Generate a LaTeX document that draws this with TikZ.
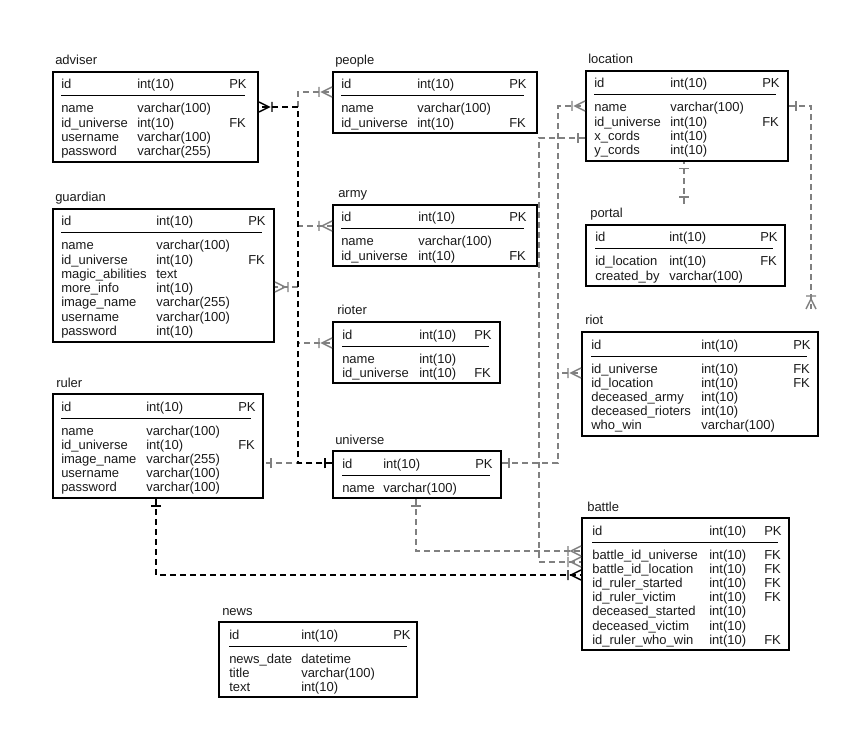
\documentclass[tikz,border=0pt]{standalone}
\usepackage{fontspec}
\setmainfont{Liberation Sans}
\usepackage{tikz}
\usetikzlibrary{calc,fit,decorations.markings}
\definecolor{linkgray}{HTML}{808080}
\definecolor{txtgray}{HTML}{1A1A1A}
\tikzset{
	tbl/.style={draw=black, line width=1.5pt, inner sep=0pt},
	title/.style={anchor=base west, inner sep=0pt, text=txtgray, font=\fontsize{9.75}{11}\selectfont},
	cell/.style={anchor=base west, inner sep=0pt, text=txtgray, font=\fontsize{9.75}{11}\selectfont},
	sepline/.style={draw=black, line width=0.75pt},
	rel/.style={draw=linkgray, line width=1.1pt, dash pattern=on 4.5pt off 3pt},
	relb/.style={rel, draw=black},
	one/.style={postaction={decorate,decoration={markings,
		mark=at position 5.25pt with {\draw[solid] (0,-5) -- (0,5);}}}},
	oneend/.style={postaction={decorate,decoration={markings,
		mark=at position -5.25pt with {\draw[solid] (0,-5) -- (0,5);}}}},
	many/.style={postaction={decorate,decoration={markings,
		mark=at position 1 with {\draw[solid] (-13,-5) -- (-13,5) (0,-5) -- (-10,0) -- (0,5);}}}}
}

\begin{document}
\begin{tikzpicture}[x=0.75pt,y=-0.75pt]
	\useasboundingbox (0,0) rectangle (868,738);

	% adviser
	\node[title] (adviser-title) at (55,65) {adviser};
	\node[tbl, fit={(53,72) (258,161.6)}] (adviser) {};
	\node[cell] (adviser-id) at (61,89) {id};
	\node[cell] (adviser-idt) at (137,89) {int(10)};
	\node[cell] (adviser-idk) at (229,89) {PK};
	\draw[sepline] (61,96) -- (245,96);
	\foreach \f/\t/\k [count=\i] in {name/varchar(100)/, id\_universe/int(10)/FK, username/varchar(100)/, password/varchar(255)/}{
		\node[cell] (adviser-f\i) at (61,{98.8+14.2*\i}) {\f};
		\node[cell] (adviser-t\i) at (137,{98.8+14.2*\i}) {\t};
		\node[cell] (adviser-k\i) at (229,{98.8+14.2*\i}) {\k};
	}

	% people
	\node[title] (people-title) at (335,65) {people};
	\node[tbl, fit={(333,72) (537,133.2)}] (people) {};
	\node[cell] (people-id) at (341,89) {id};
	\node[cell] (people-idt) at (417,89) {int(10)};
	\node[cell] (people-idk) at (509,89) {PK};
	\draw[sepline] (341,96) -- (524,96);
	\foreach \f/\t/\k [count=\i] in {name/varchar(100)/, id\_universe/int(10)/FK}{
		\node[cell] (people-f\i) at (341,{98.8+14.2*\i}) {\f};
		\node[cell] (people-t\i) at (417,{98.8+14.2*\i}) {\t};
		\node[cell] (people-k\i) at (509,{98.8+14.2*\i}) {\k};
	}

	% location
	\node[title] (location-title) at (588,64) {location};
	\node[tbl, fit={(586,71) (788,160.6)}] (location) {};
	\node[cell] (location-id) at (594,88) {id};
	\node[cell] (location-idt) at (670,88) {int(10)};
	\node[cell] (location-idk) at (762,88) {PK};
	\draw[sepline] (594,95) -- (776,95);
	\foreach \f/\t/\k [count=\i] in {name/varchar(100)/, id\_universe/int(10)/FK, x\_cords/int(10)/, y\_cords/int(10)/}{
		\node[cell] (location-f\i) at (594,{97.8+14.2*\i}) {\f};
		\node[cell] (location-t\i) at (670,{97.8+14.2*\i}) {\t};
		\node[cell] (location-k\i) at (762,{97.8+14.2*\i}) {\k};
	}

	% guardian
	\node[title] (guardian-title) at (55,202) {guardian};
	\node[tbl, fit={(53,209) (274,342)}] (guardian) {};
	\node[cell] (guardian-id) at (61,226) {id};
	\node[cell] (guardian-idt) at (156,226) {int(10)};
	\node[cell] (guardian-idk) at (248,226) {PK};
	\draw[sepline] (61,233) -- (262,233);
	\foreach \f/\t/\k [count=\i] in {name/varchar(100)/, id\_universe/int(10)/FK, magic\_abilities/text/, more\_info/int(10)/, image\_name/varchar(255)/, username/varchar(100)/, password/int(10)/}{
		\node[cell] (guardian-f\i) at (61,{235.8+14.2*\i}) {\f};
		\node[cell] (guardian-t\i) at (156,{235.8+14.2*\i}) {\t};
		\node[cell] (guardian-k\i) at (248,{235.8+14.2*\i}) {\k};
	}

	% army
	\node[title] (army-title) at (338,198) {army};
	\node[tbl, fit={(333,205) (537,266.2)}] (army) {};
	\node[cell] (army-id) at (341,222) {id};
	\node[cell] (army-idt) at (418,222) {int(10)};
	\node[cell] (army-idk) at (509,222) {PK};
	\draw[sepline] (341,229) -- (524,229);
	\foreach \f/\t/\k [count=\i] in {name/varchar(100)/, id\_universe/int(10)/FK}{
		\node[cell] (army-f\i) at (341,{231.8+14.2*\i}) {\f};
		\node[cell] (army-t\i) at (418,{231.8+14.2*\i}) {\t};
		\node[cell] (army-k\i) at (509,{231.8+14.2*\i}) {\k};
	}

	% portal
	\node[title] (portal-title) at (590,218) {portal};
	\node[tbl, fit={(586,225) (785,286.2)}] (portal) {};
	\node[cell] (portal-id) at (595,242) {id};
	\node[cell] (portal-idt) at (669,242) {int(10)};
	\node[cell] (portal-idk) at (760,242) {PK};
	\draw[sepline] (595,249) -- (773,249);
	\foreach \f/\t/\k [count=\i] in {id\_location/int(10)/FK, created\_by/varchar(100)/}{
		\node[cell] (portal-f\i) at (595,{251.8+14.2*\i}) {\f};
		\node[cell] (portal-t\i) at (669,{251.8+14.2*\i}) {\t};
		\node[cell] (portal-k\i) at (760,{251.8+14.2*\i}) {\k};
	}

	% rioter
	\node[title] (rioter-title) at (337,315) {rioter};
	\node[tbl, fit={(333,322) (500,383.2)}] (rioter) {};
	\node[cell] (rioter-id) at (342,339) {id};
	\node[cell] (rioter-idt) at (419,339) {int(10)};
	\node[cell] (rioter-idk) at (474,339) {PK};
	\draw[sepline] (342,346) -- (489,346);
	\foreach \f/\t/\k [count=\i] in {name/int(10)/, id\_universe/int(10)/FK}{
		\node[cell] (rioter-f\i) at (342,{348.8+14.2*\i}) {\f};
		\node[cell] (rioter-t\i) at (419,{348.8+14.2*\i}) {\t};
		\node[cell] (rioter-k\i) at (474,{348.8+14.2*\i}) {\k};
	}

	% riot
	\node[title] (riot-title) at (585,325) {riot};
	\node[tbl, fit={(582,332) (818,435.8)}] (riot) {};
	\node[cell] (riot-id) at (591,349) {id};
	\node[cell] (riot-idt) at (701,349) {int(10)};
	\node[cell] (riot-idk) at (793,349) {PK};
	\draw[sepline] (591,356) -- (807,356);
	\foreach \f/\t/\k [count=\i] in {id\_universe/int(10)/FK, id\_location/int(10)/FK, deceased\_army/int(10)/, deceased\_rioters/int(10)/, who\_win/varchar(100)/}{
		\node[cell] (riot-f\i) at (591,{358.8+14.2*\i}) {\f};
		\node[cell] (riot-t\i) at (701,{358.8+14.2*\i}) {\t};
		\node[cell] (riot-k\i) at (793,{358.8+14.2*\i}) {\k};
	}

	% ruler
	\node[title] (ruler-title) at (56,387) {ruler};
	\node[tbl, fit={(53,394) (263,497.8)}] (ruler) {};
	\node[cell] (ruler-id) at (61,411) {id};
	\node[cell] (ruler-idt) at (146,411) {int(10)};
	\node[cell] (ruler-idk) at (238,411) {PK};
	\draw[sepline] (61,418) -- (251,418);
	\foreach \f/\t/\k [count=\i] in {name/varchar(100)/, id\_universe/int(10)/FK, image\_name/varchar(255)/, username/varchar(100)/, password/varchar(100)/}{
		\node[cell] (ruler-f\i) at (61,{420.8+14.2*\i}) {\f};
		\node[cell] (ruler-t\i) at (146,{420.8+14.2*\i}) {\t};
		\node[cell] (ruler-k\i) at (238,{420.8+14.2*\i}) {\k};
	}

	% universe
	\node[title] (universe-title) at (335,444) {universe};
	\node[tbl, fit={(333,451) (501,498)}] (universe) {};
	\node[cell] (universe-id) at (342,468) {id};
	\node[cell] (universe-idt) at (383,468) {int(10)};
	\node[cell] (universe-idk) at (475,468) {PK};
	\draw[sepline] (342,475) -- (490,475);
	\node[cell] (universe-f1) at (342,492) {name};
	\node[cell] (universe-t1) at (383,492) {varchar(100)};

	% battle
	\node[title] (battle-title) at (587,511) {battle};
	\node[tbl, fit={(582,518) (789,650.2)}] (battle) {};
	\node[cell] (battle-id) at (592,535) {id};
	\node[cell] (battle-idt) at (709,535) {int(10)};
	\node[cell] (battle-idk) at (764,535) {PK};
	\draw[sepline] (592,542) -- (778,542);
	\foreach \f/\t/\k [count=\i] in {battle\_id\_universe/int(10)/FK, battle\_id\_location/int(10)/FK, id\_ruler\_started/int(10)/FK, id\_ruler\_victim/int(10)/FK, deceased\_started/int(10)/, deceased\_victim/int(10)/, id\_ruler\_who\_win/int(10)/FK}{
		\node[cell] (battle-f\i) at (592,{544.8+14.2*\i}) {\f};
		\node[cell] (battle-t\i) at (709,{544.8+14.2*\i}) {\t};
		\node[cell] (battle-k\i) at (764,{544.8+14.2*\i}) {\k};
	}

	% news
	\node[title] (news-title) at (222,615) {news};
	\node[tbl, fit={(219,622) (417,697.4)}] (news) {};
	\node[cell] (news-id) at (229,639) {id};
	\node[cell] (news-idt) at (301,639) {int(10)};
	\node[cell] (news-idk) at (393,639) {PK};
	\draw[sepline] (229,646) -- (407,646);
	\foreach \f/\t/\k [count=\i] in {news\_date/datetime/, title/varchar(100)/, text/int(10)/}{
		\node[cell] (news-f\i) at (229,{648.8+14.2*\i}) {\f};
		\node[cell] (news-t\i) at (301,{648.8+14.2*\i}) {\t};
		\node[cell] (news-k\i) at (393,{648.8+14.2*\i}) {\k};
	}

	% relations, grey first
	\draw[rel, one, many] ($(universe.north west)+(0,13)$) -- ++(-34,0) |- ($(people.north west)+(0,21)$);
	\draw[rel, one, many] ($(universe.north west)+(0,13)$) -- ++(-34,0) |- ($(guardian.north east)+(0,79)$);
	\draw[rel, one, many] ($(universe.north west)+(0,13)$) -- ++(-34,0) |- ($(army.north west)+(0,22)$);
	\draw[rel, one, many] ($(universe.north west)+(0,13)$) -- ++(-34,0) |- ($(rioter.north west)+(0,22)$);
	\draw[rel, one, oneend] ($(universe.north west)+(0,13)$) -- ($(ruler.north east)+(0,70)$);
	\draw[rel, one, many] ($(universe.north east)+(0,13)$) -- ++(56,0) |- ($(location.north west)+(0,36)$);
	\draw[rel, one, many] ($(universe.north east)+(0,13)$) -- ++(56,0) |- ($(riot.north west)+(0,42)$);
	\draw[rel, one, many] ($(universe.south west)+(84,0)$) |- ($(battle.north west)+(0,34)$);
	\draw[rel, one, many] ($(location.north west)+(0,68)$) -- ++(-46,0) |- ($(battle.north west)+(0,45)$);
	\draw[rel, one, oneend] ($(portal.north west)+(99,-20)$) -- ($(location.south west)+(99,0)$);
	\draw[rel, one, many] ($(location.north east)+(0,36)$) -| ($(riot.north east)+(-8,-22)$);
	% relations in black
	\draw[relb, one, many] ($(universe.north west)+(0,13)$) -- ++(-34,0) |- ($(adviser.north east)+(0,36)$);
	\draw[relb, one, many] ($(ruler.south west)+(104,0)$) |- ($(battle.north west)+(0,58)$);
\end{tikzpicture}
\end{document}
